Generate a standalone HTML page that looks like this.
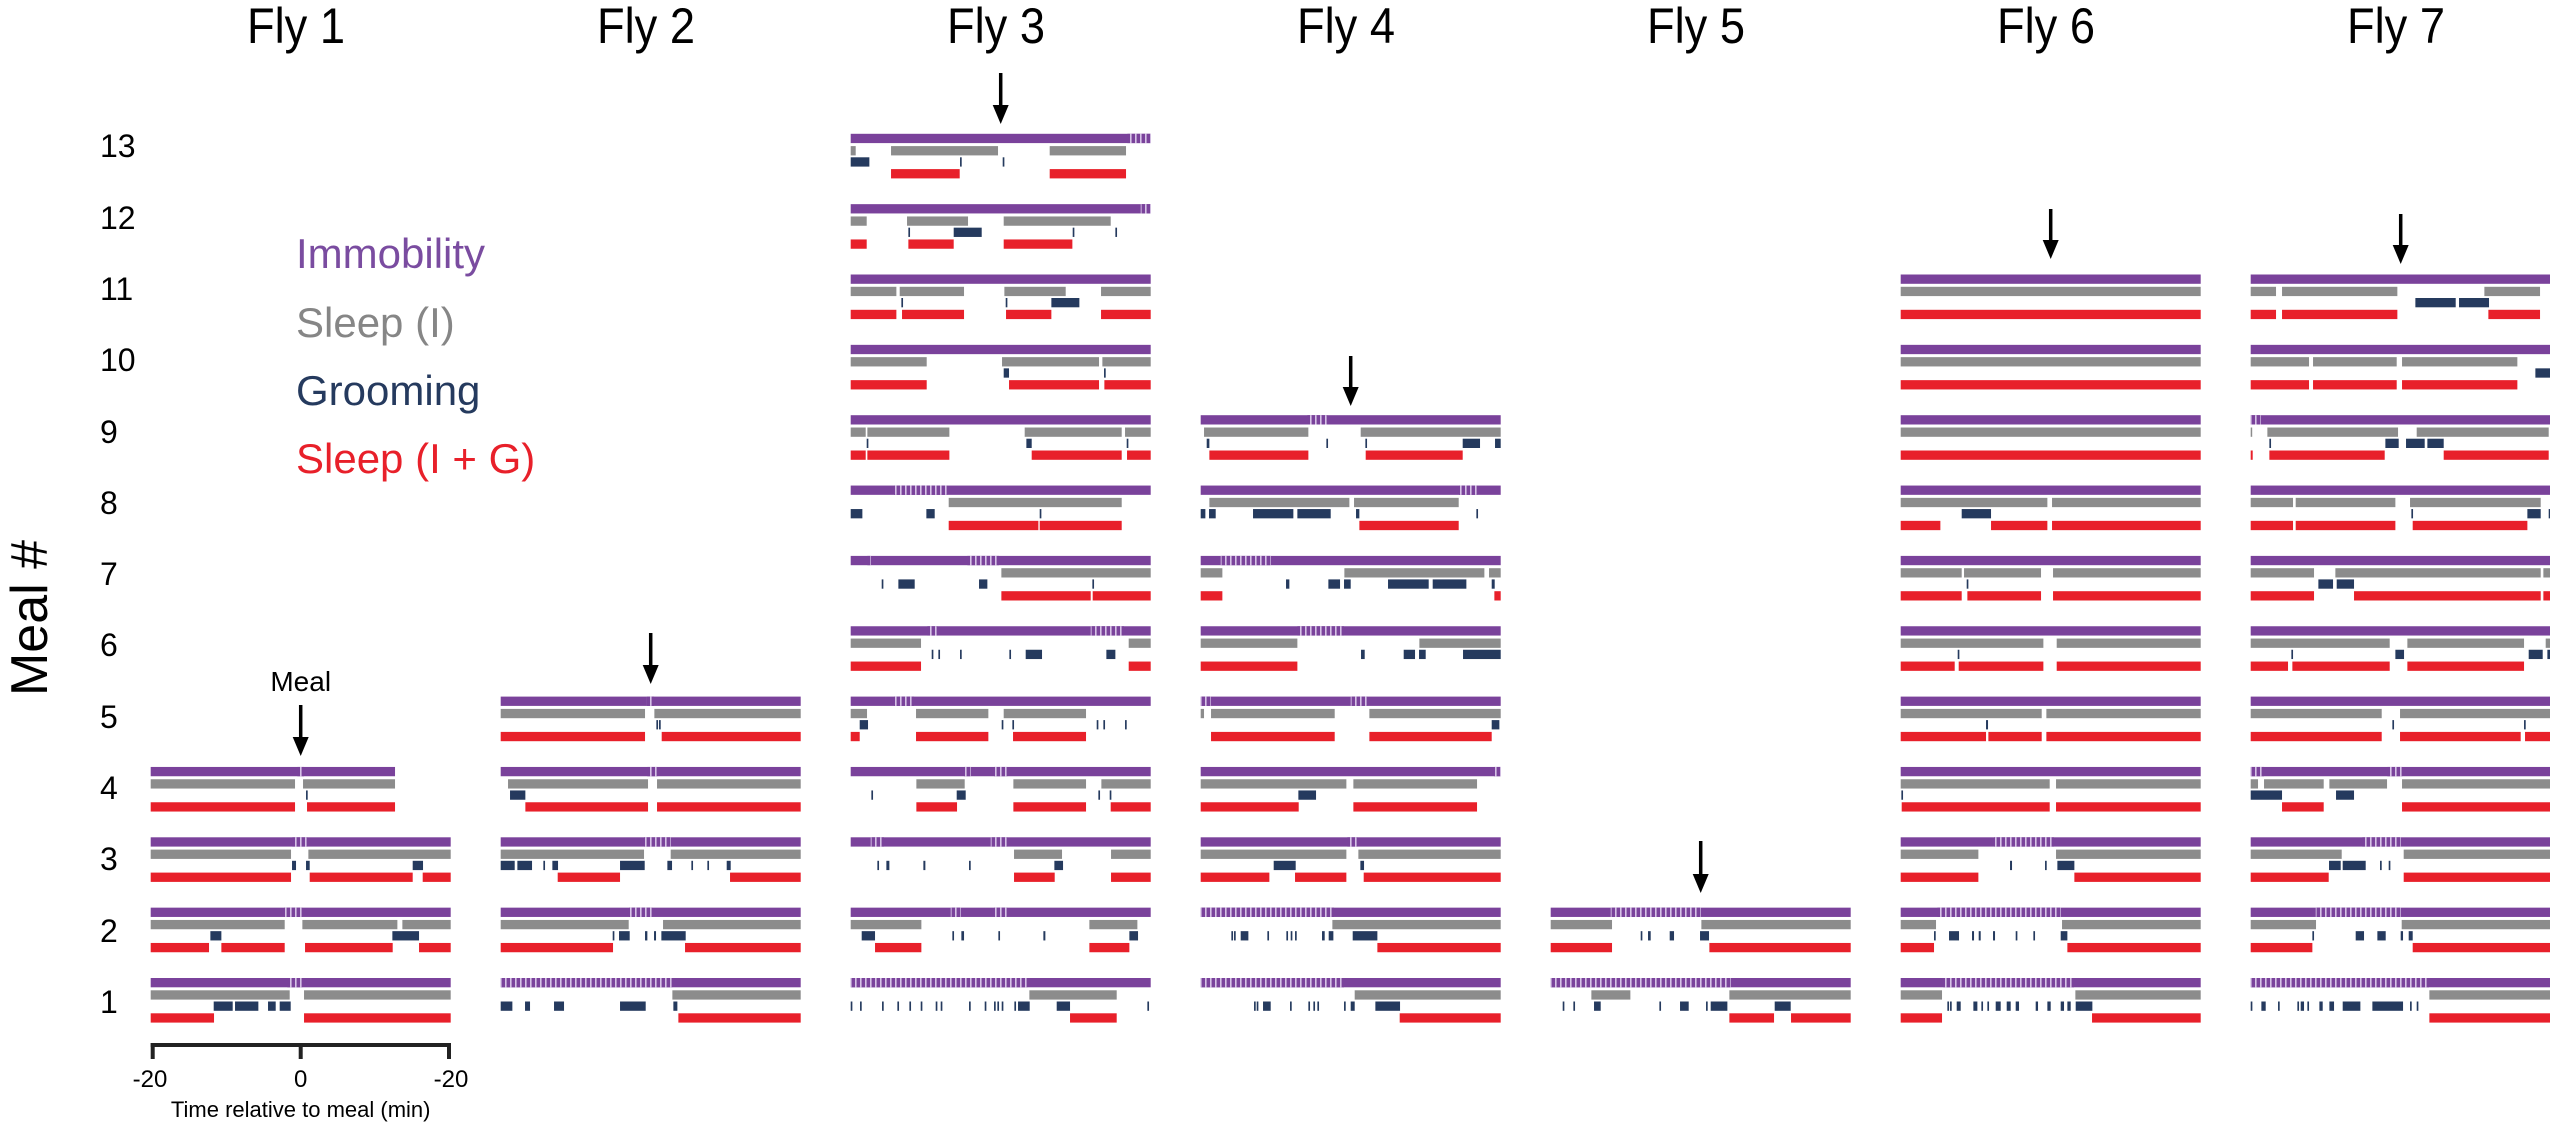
<!DOCTYPE html>
<html><head><meta charset="utf-8">
<style>
html,body{margin:0;padding:0;background:#fff;}
svg{display:block;}
text{font-family:"Liberation Sans",Arial,sans-serif;}
</style></head>
<body>
<svg id="s" width="2550" height="1127" viewBox="0 0 2550 1127" xmlns="http://www.w3.org/2000/svg">
<defs>
<pattern id="st" width="5" height="10" patternUnits="userSpaceOnUse">
<rect width="5" height="10" fill="#7a429b"/>
<rect x="0" width="1.6" height="10" fill="#d6c2e6"/>
</pattern>
</defs>
<g font-size="50" fill="#000" text-anchor="middle">
<text x="296" y="43" textLength="98" lengthAdjust="spacingAndGlyphs">Fly 1</text>
<text x="646" y="43" textLength="98" lengthAdjust="spacingAndGlyphs">Fly 2</text>
<text x="996" y="43" textLength="98" lengthAdjust="spacingAndGlyphs">Fly 3</text>
<text x="1346" y="43" textLength="98" lengthAdjust="spacingAndGlyphs">Fly 4</text>
<text x="1696" y="43" textLength="98" lengthAdjust="spacingAndGlyphs">Fly 5</text>
<text x="2046" y="43" textLength="98" lengthAdjust="spacingAndGlyphs">Fly 6</text>
<text x="2396" y="43" textLength="98" lengthAdjust="spacingAndGlyphs">Fly 7</text>
</g>
<g font-size="32" fill="#000">
<text x="100" y="1013">1</text>
<text x="100" y="942">2</text>
<text x="100" y="870">3</text>
<text x="100" y="799">4</text>
<text x="100" y="728">5</text>
<text x="100" y="656">6</text>
<text x="100" y="585">7</text>
<text x="100" y="514">8</text>
<text x="100" y="443">9</text>
<text x="100" y="371">10</text>
<text x="100" y="300">11</text>
<text x="100" y="229">12</text>
<text x="100" y="157">13</text>
</g>
<text x="0" y="0" font-size="52" text-anchor="middle" dominant-baseline="central" transform="translate(30,618) rotate(-90)">Meal #</text>
<g font-size="42">
<text x="296" y="268" fill="#7a4ca0">Immobility</text>
<text x="296" y="337" fill="#868686">Sleep (I)</text>
<text x="296" y="405" fill="#253a5e">Grooming</text>
<text x="296" y="473" fill="#e8202a">Sleep (I + G)</text>
</g>
<text x="300.7" y="691" font-size="28" text-anchor="middle">Meal</text>
<g id="bars"></g>
<g id="arrows" fill="#000" stroke="#000"></g>
<g stroke="#222" stroke-width="4" fill="none">
<line x1="150.7" y1="1045" x2="451" y2="1045"/>
<line x1="152.7" y1="1043" x2="152.7" y2="1059"/>
<line x1="300.7" y1="1043" x2="300.7" y2="1059"/>
<line x1="449" y1="1043" x2="449" y2="1059"/>
</g>
<g font-size="24" text-anchor="middle">
<text x="150" y="1087">-20</text>
<text x="300.7" y="1087">0</text>
<text x="451" y="1087">-20</text>
</g>
<text x="300.7" y="1117" font-size="22" text-anchor="middle">Time relative to meal (min)</text>
</svg>
<script>
var X=[150.7,500.7,850.7,1200.7,1550.7,1900.7,2250.7];
var F=[
{4:{p:[[0,733]],g:[[0,433],[457,733]],n:[466],r:[[0,433],[469,733]],s:[[440,460]]},
 3:{g:[[0,421],[473,900]],n:[[424,436],[466,477],[786,817]],r:[[0,421],[477,786],[816,900]],s:[[425,470]]},
 2:{g:[[0,402],[455,740],[755,900]],n:[[179,212],[725,805]],r:[[0,175],[212,402],[463,726],[805,900]],s:[[400,455]]},
 1:{g:[[0,417],[460,900]],n:[[189,246],[253,323],[352,375],[387,420]],r:[[0,190],[460,900]],s:[[410,455]]}},
{5:{g:[[0,433],[461,900]],n:[467,475],r:[[0,433],[483,900]],s:[[438,460]]},
 4:{g:[[22,442],[469,900]],n:[[28,74]],r:[[74,442],[469,900]],s:[[440,470]]},
 3:{g:[[0,430],[510,900]],n:[[0,42],[50,94],128,[155,172],[358,432],[500,514],572,620,[678,690]],r:[[171,358],[688,900]],s:[[430,510]]},
 2:{g:[[0,384],[487,900]],n:[336,[355,387],[433,440],[460,466],[482,555]],r:[[0,337],[553,900]],s:[[385,455]]},
 1:{g:[[515,900]],n:[[0,35],[73,88],[160,190],[358,435],[518,530]],r:[[533,900]],s:[[0,515]]}},
{13:{g:[[0,15],[121,442],[597,826]],n:[[0,56],328,456],r:[[121,327],[597,826]],s:[[830,900]]},
 12:{g:[[0,48],[169,352],[459,780]],n:[173,[309,393],666,794],r:[[0,48],[173,309],[459,665]],s:[[870,900]]},
 11:{g:[[0,137],[147,340],[461,645],[751,900]],n:[152,465,[602,686]],r:[[0,137],[154,340],[466,602],[751,900]]},
 10:{g:[[0,228],[454,745],[755,900]],n:[[459,475],760],r:[[0,228],[475,745],[761,900]]},
 9:{g:[[0,45],[50,296],[522,813],[823,900]],n:[48,[527,543],828],r:[[0,45],[50,296],[543,813],[829,900]]},
 8:{g:[[294,813]],n:[[0,35],[227,252],567],r:[[294,563],[567,813]],s:[[130,290]]},
 7:{g:[[452,900]],n:[93,[143,192],[385,410],725],r:[[452,720],[726,900]],s:[[50,60],[350,445]]},
 6:{g:[[0,211],[834,900]],n:[243,263,328,476,[525,574],[767,794]],r:[[0,211],[834,900]],s:[[230,260],[720,820]]},
 5:{g:[[0,49],[196,413],[459,706]],n:[[27,52],[453,458],485,738,758,823],r:[[0,27],[196,413],[487,706]],s:[[130,190]]},
 4:{g:[[197,342],[488,706],[752,900]],n:[[62,67],[318,345],[743,748],777],r:[[197,319],[488,706],[780,900]],s:[[340,360],[430,470]]},
 3:{g:[[490,634],[781,900]],n:[80,[107,116],[218,224],[355,360],[611,637]],r:[[490,612],[781,900]],s:[[60,100],[420,470]]},
 2:{g:[[0,212],[716,860]],n:[[33,73],305,[332,340],[443,448],[578,584],[836,862]],r:[[73,212],[716,836]],s:[[300,330],[430,470]]},
 1:{g:[[536,798]],n:[0,28,94,140,176,210,255,270,355,402,430,440,453,491,[502,537],[618,658],890],r:[[658,798]],s:[[0,530]]}},
{9:{g:[[10,323],[480,900]],n:[[18,26],377,494,[786,838],[883,900]],r:[[26,323],[495,786]],s:[[320,380]]},
 8:{g:[[26,446],[460,774]],n:[[0,14],[25,45],[157,278],[290,390],[466,476],827],r:[[476,774]],s:[[775,830]]},
 7:{g:[[0,65],[431,851],[865,900]],n:[[256,266],[383,418],[430,450],[562,684],[696,797],[873,882]],r:[[0,65],[881,900]],s:[[60,210]]},
 6:{g:[[0,290],[656,900]],n:[[481,492],[609,643],[655,675],[787,900]],r:[[0,290]],s:[[290,430]]},
 5:{g:[[0,10],[31,402],[506,900]],n:[[873,896]],r:[[31,402],[506,873]],s:[[0,30],[450,500]]},
 4:{g:[[0,437],[458,829]],n:[[293,346]],r:[[0,294],[458,829]],s:[[880,900]]},
 3:{g:[[0,437],[473,900]],n:[[219,285],[479,490]],r:[[0,206],[283,437],[489,900]],s:[[440,470]]},
 2:{g:[[395,900]],n:[92,100,[120,143],200,257,270,283,[364,372],[384,398],[456,530]],r:[[530,900]],s:[[0,400]]},
 1:{g:[[462,900]],n:[160,168,[187,210],268,323,338,350,430,[450,462],[524,598]],r:[[597,900]],s:[[0,430]]}},
{2:{g:[[0,184],[452,900]],n:[270,[292,300],[357,370],[448,475]],r:[[0,184],[476,900]],s:[[180,450]]},
 1:{g:[[122,239],[536,900]],n:[36,68,[130,150],326,[388,414],466,[480,530],[672,720]],r:[[536,670],[721,900]],s:[[0,540]]}},
{11:{g:[[0,900]],n:[],r:[[0,900]]},
 10:{g:[[0,900]],n:[],r:[[0,900]]},
 9:{g:[[0,900]],n:[],r:[[0,900]]},
 8:{g:[[0,440],[454,900]],n:[[183,271]],r:[[0,119],[271,440],[454,900]]},
 7:{g:[[0,183],[190,421],[457,900]],n:[198],r:[[0,183],[200,421],[457,900]]},
 6:{g:[[0,428],[468,900]],n:[171],r:[[0,162],[174,428],[468,900]]},
 5:{g:[[0,423],[437,900]],n:[[256,262]],r:[[0,256],[263,423],[437,900]]},
 4:{g:[[0,447],[466,900]],n:[2],r:[[3,447],[466,900]]},
 3:{g:[[0,233],[466,900]],n:[[328,334],433,[470,521]],r:[[0,233],[521,900]],s:[[280,460]]},
 2:{g:[[0,106],[484,900]],n:[100,[145,175],[214,220],[234,240],[277,283],345,398,[480,500]],r:[[0,100],[500,900]],s:[[110,480]]},
 1:{g:[[0,124],[524,900]],n:[140,148,[168,180],[218,230],242,260,[285,300],[318,330],[345,355],[405,412],[440,450],[480,490],[500,510],[525,575]],r:[[0,124],[574,900]],s:[[128,520]]}},
{11:{g:[[0,76],[94,440],[701,868]],n:[[494,615],[625,715]],r:[[0,76],[94,440],[713,868]]},
 10:{g:[[0,175],[187,438],[454,800]],n:[[854,900]],r:[[0,175],[187,438],[454,800]]},
 9:{g:[[0,4],[50,442],[498,894]],n:[56,[404,444],[466,522],[530,579]],r:[[0,6],[56,402],[579,894]],s:[[0,30]]},
 8:{g:[[0,127],[135,434],[478,870]],n:[482,[830,870],[894,900]],r:[[0,127],[135,434],[486,830]]},
 7:{g:[[0,190],[254,870],[878,900]],n:[[203,247],[258,310]],r:[[0,190],[310,870],[878,900]]},
 6:{g:[[0,417],[470,820],[885,900]],n:[122,[434,460],[834,876],[890,900]],r:[[0,112],[125,417],[470,820]]},
 5:{g:[[0,393],[448,900]],n:[425,820],r:[[0,393],[448,810],[823,900]]},
 4:{g:[[0,22],[40,219],[236,409],[454,900]],n:[[0,94],[256,310]],r:[[94,219],[454,900]],s:[[0,40],[410,455]]},
 3:{g:[[0,273],[459,900]],n:[[235,270],[276,345],388,414],r:[[0,234],[459,900]],s:[[335,450]]},
 2:{g:[[0,196],[453,900]],n:[185,[315,340],[380,405],[450,457],[474,486]],r:[[0,185],[486,900]],s:[[195,450]]},
 1:{g:[[536,900]],n:[0,[32,45],82,140,[150,160],170,[206,216],[236,250],[276,329],[365,457],478,498],r:[[536,900]],s:[[0,535]]}}
];
var NS="http://www.w3.org/2000/svg";
var B=document.getElementById("bars");
function R(x,y,w,h,f){var e=document.createElementNS(NS,"rect");e.setAttribute("x",x.toFixed(2));e.setAttribute("y",y.toFixed(2));e.setAttribute("width",Math.max(w,1.5).toFixed(2));e.setAttribute("height",h);e.setAttribute("fill",f);B.appendChild(e);}
function segs(a){return a.map(function(v){return typeof v==="number"?[v,v+5]:v;});}
var H=9.3;
for(var f=0;f<F.length;f++){
  for(var k in F[f]){
    var d=F[f][k];var P=978-70.35*(k-1);var x0=X[f];
    var p=d.p||[[0,900]];
    p.forEach(function(s){R(x0+s[0]/3,P,(s[1]-s[0])/3,H,"#7a429b");});
    (d.s||[]).forEach(function(s){R(x0+s[0]/3,P,(s[1]-s[0])/3,H,"url(#st)");});
    segs(d.g||[]).forEach(function(s){R(x0+s[0]/3,P+12.3,(s[1]-s[0])/3,H,"#8c8c8c");});
    segs(d.n||[]).forEach(function(s){R(x0+s[0]/3,P+23.5,(s[1]-s[0])/3,H,"#253a5e");});
    segs(d.r||[]).forEach(function(s){R(x0+s[0]/3,P+35.3,(s[1]-s[0])/3,H,"#e8202a");});
  }
}
var A=document.getElementById("arrows");
[[300.7,705,756],[650.7,633,684],[1000.7,73,124],[1350.7,356,406],[1700.7,841,893],[2050.7,209,259],[2400.7,214,264]].forEach(function(a){
  var l=document.createElementNS(NS,"line");l.setAttribute("x1",a[0]);l.setAttribute("x2",a[0]);l.setAttribute("y1",a[1]);l.setAttribute("y2",a[2]-16);l.setAttribute("stroke-width","3.5");A.appendChild(l);
  var t=document.createElementNS(NS,"polygon");t.setAttribute("points",(a[0]-8)+","+(a[2]-19)+" "+(a[0]+8)+","+(a[2]-19)+" "+a[0]+","+a[2]);t.setAttribute("stroke","none");A.appendChild(t);
});
</script>
</body></html>
